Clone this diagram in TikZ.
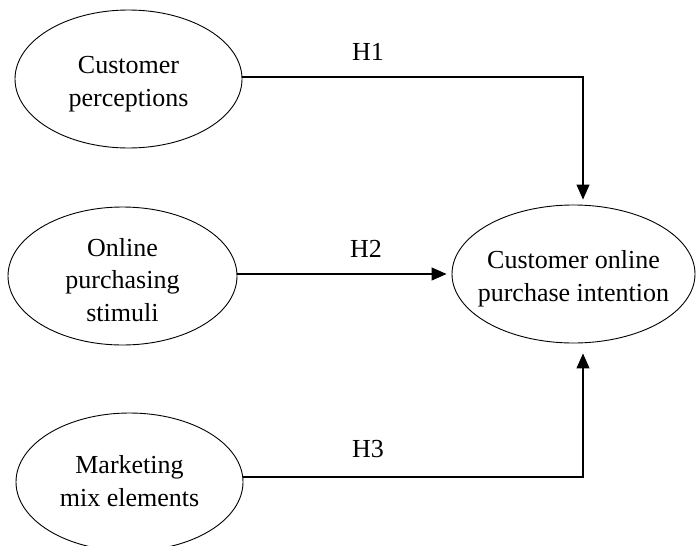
\documentclass[tikz,border=0pt]{standalone}
\usepackage{fontspec}
\setmainfont{Liberation Serif}
\usetikzlibrary{shapes.geometric,arrows.meta}
\begin{document}
\begin{tikzpicture}[x=1pt,y=-1pt,
  ell/.style={draw,ellipse,line width=0.9pt,inner sep=0pt,minimum height=138pt},
  txt/.style={align=center,font=\fontsize{26}{32.5}\selectfont,inner sep=0pt},
  hlab/.style={anchor=base west,font=\fontsize{26}{32}\selectfont,inner sep=0pt},
  arr/.style={line width=1.1pt,-{Triangle[length=15pt,width=13pt]}}]
\useasboundingbox (0,0) rectangle (696,546);
% ellipses
\node[ell,minimum width=227pt] (e1) at (128.5,79) {};
\node[ell,minimum width=229pt] (e2) at (122.5,276) {};
\node[ell,minimum width=227pt] (e3) at (129.5,482) {};
\node[ell,minimum width=243pt] (t) at (573.5,274) {};
% texts
\node[txt] (e1t) at ([yshift=-5pt]e1.center) {Customer\\perceptions};
\node[txt] (e2t) at ([yshift=-4pt]e2.center) {Online\\purchasing\\stimuli};
\node[txt] (e3t) at ([yshift=1pt]e3.center) {Marketing\\mix elements};
\node[txt] (tt) at ([yshift=-4.5pt]t.center) {Customer online\\purchase intention};
% arrow end points
\coordinate (t1) at ([xshift=9.5pt,yshift=5pt]t.north);
\coordinate (t3) at ([xshift=9.5pt,yshift=-10pt]t.south);
\coordinate (t2) at ([xshift=-5pt]t.west);
% connectors
\draw[arr] ([yshift=2pt]e1.east) -| (t1);
\draw[arr] (e2.east |- t2) -- (t2);
\draw[arr] ([yshift=5pt]e3.east) -| (t3);
% labels
\node[hlab] (h1) at (352,60) {H1};
\node[hlab] (h2) at (350,257) {H2};
\node[hlab] (h3) at (352,457) {H3};
\end{tikzpicture}
\end{document}
